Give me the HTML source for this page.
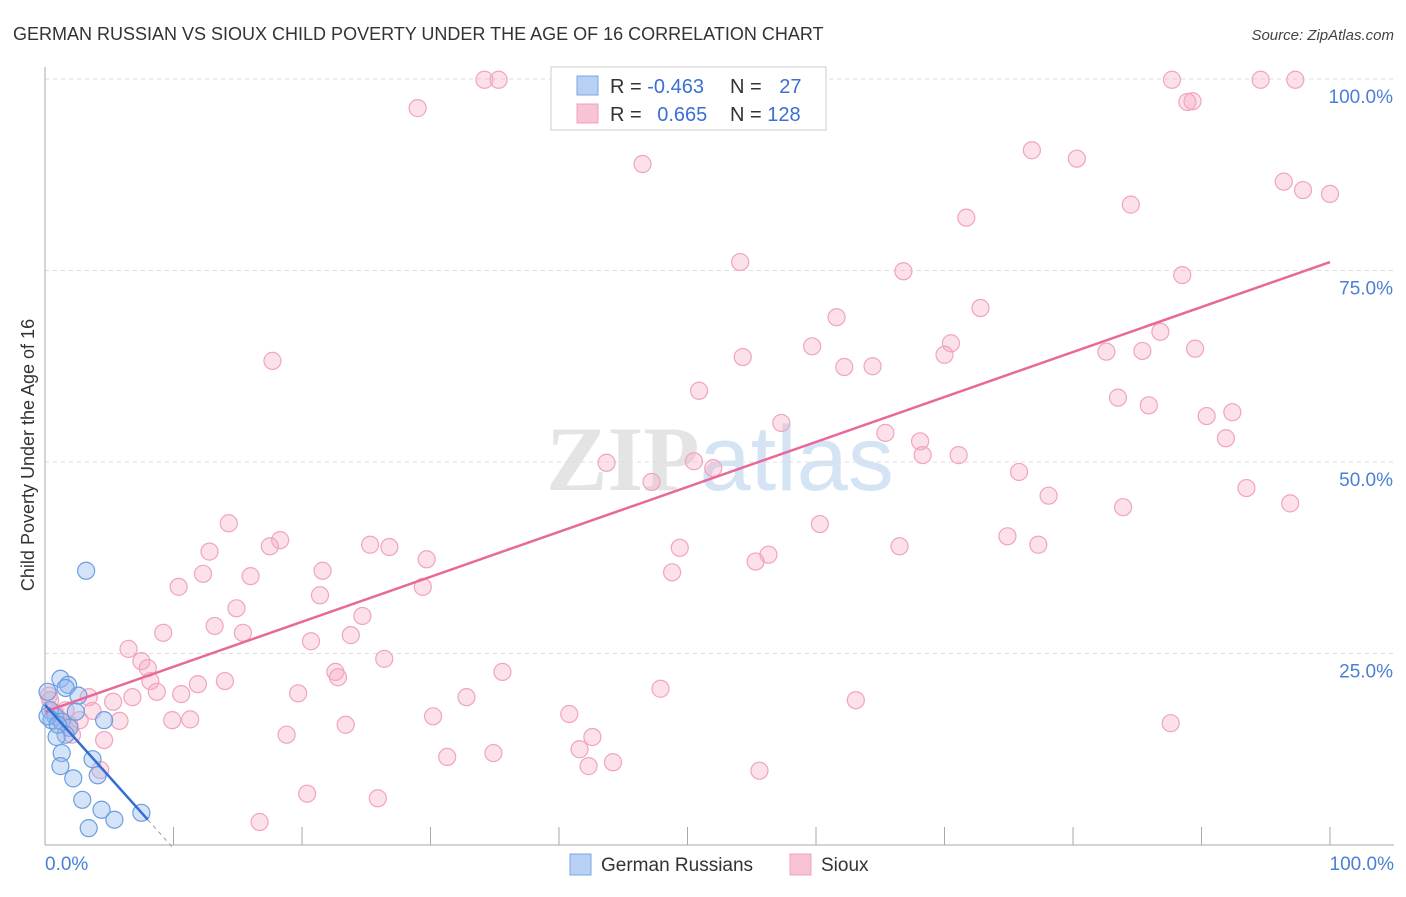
<!DOCTYPE html>
<html><head><meta charset="utf-8"><style>
body{margin:0;background:#fff;font-family:"Liberation Sans",sans-serif}
</style></head><body>
<svg id="chart" width="1406" height="892" xmlns="http://www.w3.org/2000/svg" font-family="Liberation Sans, sans-serif">
<text x="13" y="40" font-size="18" fill="#333">GERMAN RUSSIAN VS SIOUX CHILD POVERTY UNDER THE AGE OF 16 CORRELATION CHART</text>
<text x="1394" y="40" font-size="15" fill="#444" text-anchor="end" font-style="italic">Source: ZipAtlas.com</text>
<text x="720" y="490" font-size="92" text-anchor="middle" fill="#e4e4e4" font-family="Liberation Serif, serif" font-weight="bold">ZIP<tspan fill="#d4e4f4" font-family="Liberation Sans, sans-serif" font-weight="normal">atlas</tspan></text>
<g id="grid"></g><g id="axes"></g><g id="pts"></g><g id="lines"></g>
<text transform="translate(34,455) rotate(-90)" font-size="18" fill="#333" text-anchor="middle">Child Poverty Under the Age of 16</text>
<g>
<rect x="551" y="67" width="275" height="63" fill="#fff" stroke="#ccc"/>
<rect x="577" y="76" width="21" height="19" fill="#b8d0f4" stroke="#7aa6e4"/>
<rect x="577" y="104" width="21" height="19" fill="#f8c4d4" stroke="#f0a0bc"/>
<text x="610" y="93" font-size="20" fill="#333">R = <tspan fill="#3a70d0">-0.463</tspan></text>
<text x="730" y="93" font-size="20" fill="#333">N = <tspan fill="#3a70d0" dx="12">27</tspan></text>
<text x="610" y="121" font-size="20" fill="#333">R = <tspan fill="#3a70d0" dx="10">0.665</tspan></text>
<text x="730" y="121" font-size="20" fill="#333">N = <tspan fill="#3a70d0">128</tspan></text>
</g>
<g>
<rect x="570" y="854" width="21" height="21" fill="#b8d0f4" stroke="#7aa6e4"/>
<text x="601" y="871" font-size="19" fill="#333">German Russians</text>
<rect x="790" y="854" width="21" height="21" fill="#f8c4d4" stroke="#f0a0bc"/>
<text x="821" y="871" font-size="19" fill="#333">Sioux</text>
</g>
</svg>
<script>
const yTicks=[25,50,75,100];
const yTickLabels=["25.0%","50.0%","75.0%","100.0%"];
const xTickLabels=["0.0%","100.0%"];
const pinkX=[34.2,35.3,29.0,46.5,87.7,94.6,97.3,88.9,89.3,76.8,80.3,96.4,97.9,100,84.5,71.7,54.1,66.8,88.5,72.8,61.6,17.7,54.3,59.7,62.2,64.4,70.5,70.0,82.6,85.4,86.8,89.5,50.9,57.3,83.5,85.9,90.4,92.4,91.9,65.4,68.1,68.3,71.1,43.7,50.5,52.0,47.2,75.8,78.1,93.5,96.9,83.9,60.3,74.9,77.3,66.5,49.4,55.3,56.3,48.8,14.3,12.8,18.3,17.5,25.3,26.8,29.7,29.4,12.3,16.0,21.6,10.4,14.9,21.4,24.7,9.2,13.2,15.4,20.7,23.8,6.5,7.5,8.0,8.2,26.4,22.6,22.8,35.6,8.7,10.6,6.8,11.9,14.0,19.7,32.8,47.9,63.1,3.4,5.3,3.7,2.7,9.9,11.3,5.8,30.2,40.8,23.4,18.8,42.6,4.6,41.6,34.9,31.3,42.3,44.2,55.6,4.3,20.4,25.9,16.7,87.6,0.4,0.8,1.2,1.9,2.1,1.6,0.3];
const pinkY=[99.9,99.9,96.2,88.9,99.9,99.9,99.9,97.0,97.1,90.7,89.6,86.6,85.5,85.0,83.6,81.9,76.1,74.9,74.4,70.1,68.9,63.2,63.7,65.1,62.4,62.5,65.5,64.0,64.4,64.5,67.0,64.8,59.3,55.1,58.4,57.4,56.0,56.5,53.1,53.8,52.7,50.9,50.9,49.9,50.1,49.2,47.4,48.7,45.6,46.6,44.6,44.1,41.9,40.3,39.2,39.0,38.8,37.0,37.9,35.6,42.0,38.3,39.8,39.0,39.2,38.9,37.3,33.7,35.4,35.1,35.8,33.7,30.9,32.6,29.9,27.7,28.6,27.7,26.6,27.4,25.6,24.0,23.1,21.4,24.3,22.6,21.9,22.6,20.0,19.7,19.3,21.0,21.4,19.8,19.3,20.4,18.9,19.3,18.7,17.5,16.3,16.3,16.4,16.2,16.8,17.1,15.7,14.4,14.1,13.7,12.5,12.0,11.5,10.3,10.8,9.7,9.8,6.7,6.1,3.0,15.9,18.9,17.2,16.3,15.7,14.4,17.6,19.5];
const blueX=[3.2,1.2,1.8,1.6,2.6,0.2,0.4,0.8,0.5,1.3,1.9,4.6,2.4,1.6,0.9,1.3,1.2,3.7,4.1,2.2,2.9,4.4,5.4,3.4,7.5,0.2,1.0];
const blueY=[35.8,21.7,20.9,20.5,19.5,20.0,17.6,16.8,16.3,16.1,15.3,16.3,17.4,14.4,14.1,12.0,10.3,11.2,9.1,8.7,5.9,4.6,3.3,2.2,4.2,16.8,15.7];
const pinkFit=[17.4,76.1];
const blueFit=[18.3,-0.15];
const X=v=>45+v*12.85, Y=v=>845-v*7.66;
const NS="http://www.w3.org/2000/svg";
function mk(t,a,p){const e=document.createElementNS(NS,t);for(const k in a)e.setAttribute(k,a[k]);document.getElementById(p).appendChild(e);return e;}
yTicks.forEach((t,i)=>{
 const g=mk('line',{x1:45,x2:1394,y1:Y(t),y2:Y(t),stroke:'#ddd','stroke-dasharray':'4,4'},'grid');
 
 
 const l=mk('text',{x:1393,y:Y(t)+24,'font-size':19,fill:'#4a7fd6','text-anchor':'end'},'axes');
 l.textContent=yTickLabels[i];
 
 
});
const ax=mk('line',{x1:45,x2:45,y1:67,y2:845,stroke:'#aaa'},'axes');


const bx=mk('line',{x1:45,x2:1394,y1:845,y2:845,stroke:'#aaa'},'axes');


for(let i=1;i<=10;i++){const t=mk('line',{x1:X(i*10),x2:X(i*10),y1:827,y2:845,stroke:'#aaa'},'axes');
 
 }
[[0,'start',45],[100,'end',1394]].forEach((d,i)=>{const t=mk('text',{x:d[2],y:870,'font-size':19,fill:'#4a7fd6','text-anchor':d[1]},'axes');t.textContent=xTickLabels[i];
 
 });
pinkX.forEach((x,i)=>{const c=mk('circle',{cx:X(x),cy:Y(pinkY[i]),r:8.5,fill:'rgba(246,170,196,0.35)',stroke:'#f0a4be','stroke-width':1.2},'pts');
 
 });
blueX.forEach((x,i)=>{const c=mk('circle',{cx:X(x),cy:Y(blueY[i]),r:8.5,fill:'rgba(150,186,240,0.4)',stroke:'#6a9ee0','stroke-width':1.2},'pts');
 
 });
const pl=mk('line',{x1:X(0),y1:Y(pinkFit[0]),x2:X(100),y2:Y(pinkFit[1]),stroke:'#e8689a','stroke-width':2.5},'lines');


const bl=mk('line',{x1:X(0),y1:Y(blueFit[0]),x2:X(8),y2:Y(blueFit[0]+blueFit[1]*100),stroke:'#2f6fd0','stroke-width':2.5},'lines');


const bd=mk('line',{x1:X(8),y1:Y(blueFit[0]+blueFit[1]*100),x2:X(10),y2:Y(blueFit[0]+blueFit[1]*125),stroke:'#99b','stroke-width':1,'stroke-dasharray':'4,4'},'lines');


</script>
</body></html>
